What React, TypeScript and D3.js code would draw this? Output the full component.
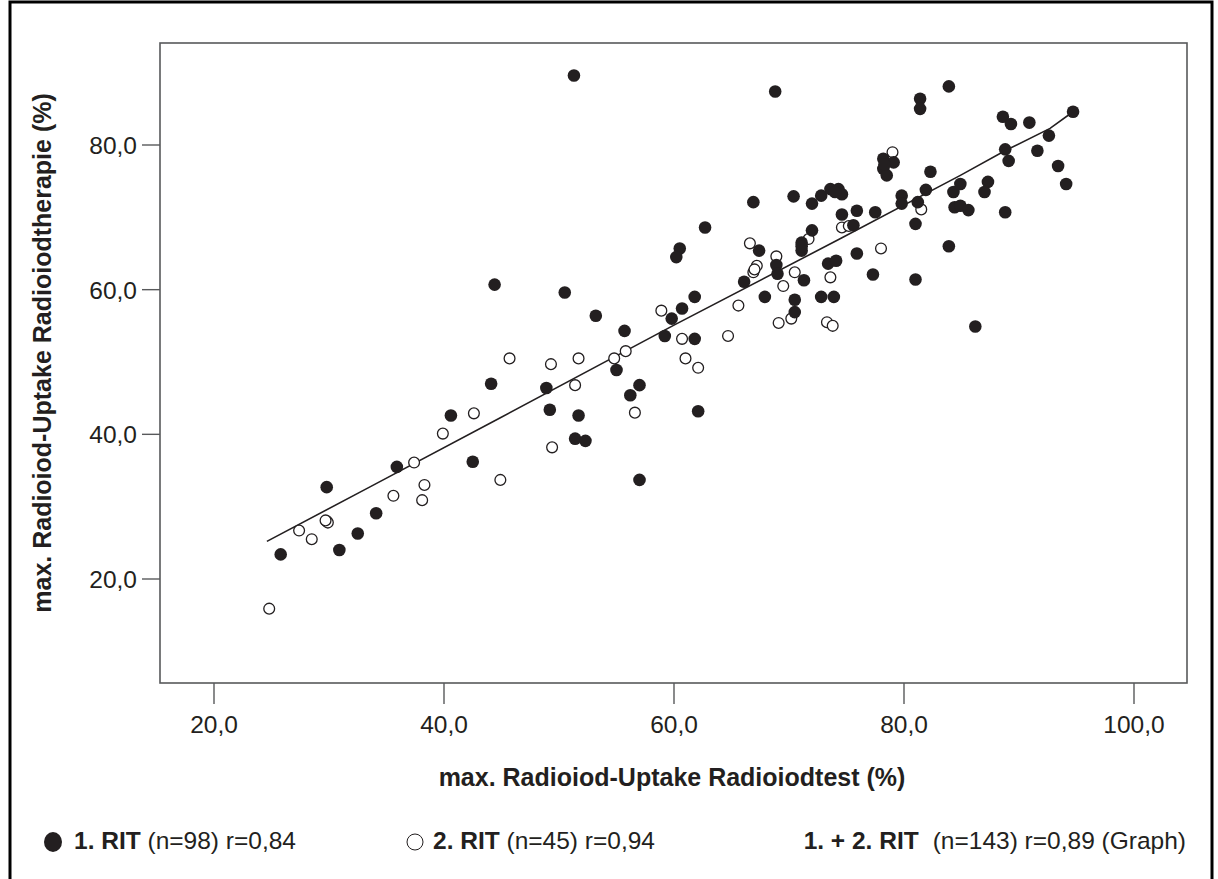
import React from "react";
import * as d3 from "d3";

// 1. RIT (filled markers)
const rit1X = [
  25.8, 29.8, 30.9, 32.5, 34.1, 35.9, 40.6, 42.5, 44.1, 44.4,
  50.5, 53.2, 55.7, 55.0, 48.9, 57.0, 56.2, 49.2, 51.7, 62.1,
  51.4, 52.3, 57.0, 59.8, 60.7, 61.8, 59.2, 61.8, 67.9, 66.1,
  68.9, 69.0, 71.3, 70.5, 70.5, 72.8, 73.9, 73.4, 74.1, 51.3,
  68.8, 66.9, 70.4, 72.0, 72.8, 73.6, 74.3, 74.6, 74.6, 62.7,
  60.5, 60.2, 67.4, 72.0, 71.1, 71.1, 83.9, 81.4, 81.4, 88.6,
  89.3, 90.9, 94.7, 92.6, 88.8, 89.1, 91.6, 93.4, 94.1, 78.2,
  78.2, 78.5, 79.1, 82.3, 81.9, 79.8, 79.8, 81.2, 81.0, 84.3,
  84.9, 84.4, 84.9, 85.6, 87.3, 87.0, 88.8, 83.9, 75.9, 75.9,
  77.5, 75.6, 77.3, 81.0, 86.2, 78.3, 74.0, 71.1,
];
const rit1Y = [
  23.4, 32.7, 24.0, 26.3, 29.1, 35.5, 42.6, 36.2, 47.0, 60.7,
  59.6, 56.4, 54.3, 48.9, 46.4, 46.8, 45.4, 43.4, 42.6, 43.2,
  39.4, 39.1, 33.7, 56.0, 57.4, 59.0, 53.6, 53.2, 59.0, 61.1,
  63.4, 62.2, 61.3, 58.6, 56.9, 59.0, 59.0, 63.6, 64.0, 89.6,
  87.4, 72.1, 72.9, 71.9, 73.0, 73.9, 73.9, 73.2, 70.4, 68.6,
  65.7, 64.5, 65.4, 68.2, 66.5, 65.4, 88.1, 86.4, 85.0, 83.9,
  82.9, 83.1, 84.6, 81.3, 79.4, 77.8, 79.2, 77.1, 74.6, 78.1,
  76.7, 75.8, 77.6, 76.3, 73.8, 73.0, 71.9, 72.1, 69.1, 73.5,
  74.6, 71.4, 71.6, 71.0, 74.9, 73.5, 70.7, 66.0, 65.0, 70.9,
  70.7, 68.9, 62.1, 61.4, 54.9, 77.3, 73.5, 66.0,
];

// 2. RIT (open markers)
const rit2X = [
  24.8, 27.4, 28.5, 29.8, 29.9, 35.6, 38.3, 38.1, 37.4, 39.9,
  42.6, 44.9, 45.7, 49.3, 51.7, 54.8, 55.8, 51.4, 56.6, 49.4,
  58.9, 60.7, 61.0, 62.1, 64.7, 65.6, 67.2, 66.9, 70.5, 69.5,
  70.2, 69.1, 73.3, 73.8, 73.6, 66.6, 68.9, 71.7, 74.6, 75.2,
  81.5, 79.0, 78.0, 29.7, 67.0,
];
const rit2Y = [
  15.9, 26.7, 25.5, 28.0, 27.8, 31.5, 33.0, 30.9, 36.1, 40.1,
  42.9, 33.7, 50.5, 49.7, 50.5, 50.5, 51.5, 46.8, 43.0, 38.2,
  57.1, 53.2, 50.5, 49.2, 53.6, 57.8, 63.3, 62.4, 62.4, 60.5,
  56.0, 55.4, 55.5, 55.0, 61.7, 66.4, 64.6, 67.0, 68.6, 68.8,
  71.1, 79.0, 65.7, 28.1, 62.8,
];

// fitted line (1. + 2. RIT)
const fitX = [24.6, 33.4, 44.9, 60.0, 74.4, 84.9, 88.9, 92.7, 94.7];
const fitY = [25.2, 32.6, 42.3, 55.1, 67.0, 75.8, 79.3, 82.3, 84.6];

const xTicks = [20, 40, 60, 80, 100];
const yTicks = [20, 40, 60, 80];

const FONT = "'Liberation Sans', Arial, sans-serif";
const INK = "#231f20";
const FRAME = "#58595b";

const App = () => {
  const width = 1218;
  const height = 879;
  const frame = { left: 160, right: 1187, top: 43, bottom: 683 };

  const x = d3.scaleLinear().domain([20, 100]).range([214, 1134]);
  const y = d3.scaleLinear().domain([20, 80]).range([579, 145]);
  const fmt = (v: number) => d3.format(".1f")(v).replace(".", ",");

  const fitPath = d3
    .line<number>()
    .x((d) => x(d))
    .y((_, i) => y(fitY[i]))(fitX);

  return (
    <svg
      width={width}
      height={height}
      style={{ position: "absolute", left: 0, top: 0, background: "#fff" }}
      fontFamily={FONT}
    >
      <rect x={0} y={0} width={width} height={height} fill="#fff" />
      {/* outer border */}
      <rect x={10} y={2} width={1202} height={900} fill="none" stroke="#000" strokeWidth={3} />

      {/* plot frame */}
      <rect
        x={frame.left}
        y={frame.top}
        width={frame.right - frame.left}
        height={frame.bottom - frame.top}
        fill="#fff"
        stroke={FRAME}
        strokeWidth={1.6}
      />

      {/* x ticks */}
      {xTicks.map((t) => (
        <g key={"x" + t}>
          <line x1={x(t)} x2={x(t)} y1={frame.bottom} y2={frame.bottom + 21} stroke={FRAME} strokeWidth={1.4} />
          <text x={x(t)} y={733} textAnchor="middle" fontSize={24.5} fill={INK}>
            {fmt(t)}
          </text>
        </g>
      ))}

      {/* y ticks */}
      {yTicks.map((t) => (
        <g key={"y" + t}>
          <line x1={frame.left - 18} x2={frame.left} y1={y(t)} y2={y(t)} stroke={FRAME} strokeWidth={1.4} />
          <text x={137} y={y(t) + 9} textAnchor="end" fontSize={24.5} fill={INK}>
            {fmt(t)}
          </text>
        </g>
      ))}

      {/* axis titles */}
      <text x={672} y={786} textAnchor="middle" fontSize={25} fontWeight="bold" fill={INK}>
        max. Radioiod-Uptake Radioiodtest (%)
      </text>
      <text
        transform="translate(51,353) rotate(-90)"
        textAnchor="middle"
        fontSize={25}
        fontWeight="bold"
        fill={INK}
      >
        max. Radioiod-Uptake Radioiodtherapie (%)
      </text>

      {/* fitted line */}
      <path d={fitPath || ""} fill="none" stroke={INK} strokeWidth={1.6} />

      {/* 2. RIT open markers */}
      {rit2X.map((v, i) => (
        <circle key={"o" + i} cx={x(v)} cy={y(rit2Y[i])} r={5.4} fill="#fff" stroke={INK} strokeWidth={1.3} />
      ))}

      {/* 1. RIT filled markers */}
      {rit1X.map((v, i) => (
        <circle key={"f" + i} cx={x(v)} cy={y(rit1Y[i])} r={6.3} fill={INK} />
      ))}

      {/* legend */}
      <g fontSize={24.5} fill={INK}>
        <ellipse cx={53} cy={842} rx={9} ry={10} fill={INK} />
        <text x={74} y={849}>
          <tspan fontWeight="bold">1. RIT</tspan> (n=98) r=0,84
        </text>
        <circle cx={415} cy={842} r={8} fill="#fff" stroke={INK} strokeWidth={1} />
        <text x={433} y={849}>
          <tspan fontWeight="bold">2. RIT</tspan> (n=45) r=0,94
        </text>
        <text x={1186} y={849} textAnchor="end">
          <tspan fontWeight="bold">1. + 2. RIT</tspan>
          <tspan dx={14}>(n=143) r=0,89 (Graph)</tspan>
        </text>
      </g>
    </svg>
  );
};

export default App;
